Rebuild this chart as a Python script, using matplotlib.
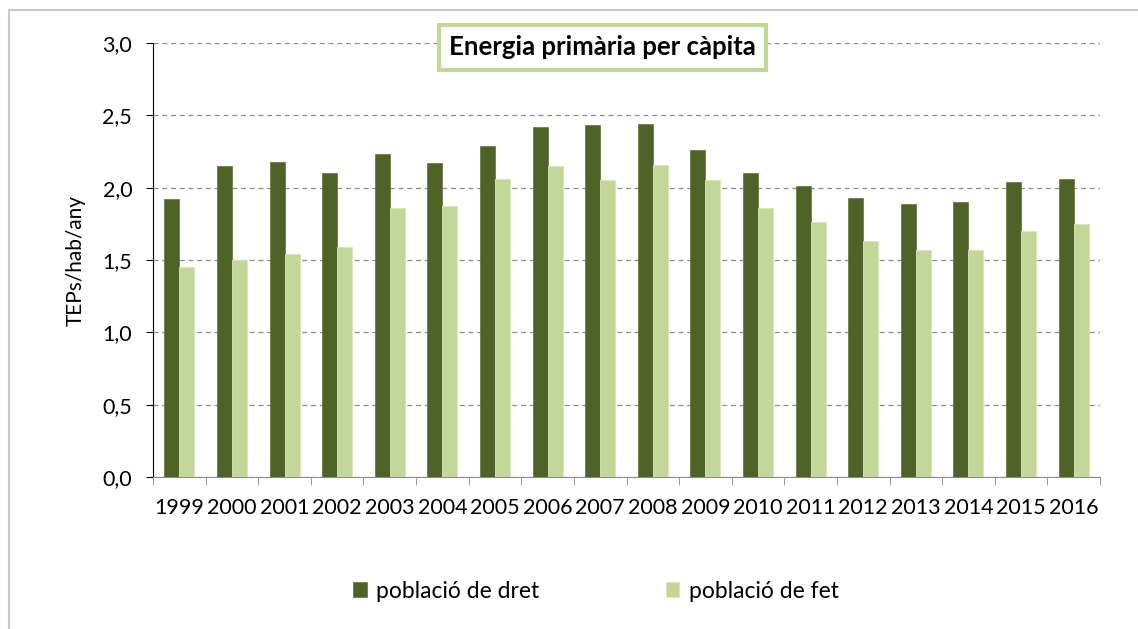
import matplotlib.pyplot as plt
import numpy as np
from matplotlib.patches import Rectangle

years = ["1999", "2000", "2001", "2002", "2003", "2004", "2005", "2006", "2007",
         "2008", "2009", "2010", "2011", "2012", "2013", "2014", "2015", "2016"]
dret = [1.92, 2.15, 2.18, 2.10, 2.23, 2.17, 2.29, 2.42, 2.43,
        2.44, 2.26, 2.10, 2.01, 1.93, 1.89, 1.90, 2.04, 2.06]
fet = [1.45, 1.50, 1.54, 1.59, 1.86, 1.87, 2.06, 2.15, 2.05,
       2.16, 2.05, 1.86, 1.76, 1.63, 1.57, 1.57, 1.70, 1.75]

dark = "#4f6228"
light = "#c4d79b"

plt.rcParams['font.family'] = ['Lato', 'DejaVu Sans']

W, H = 1138, 629
fig = plt.figure(figsize=(W / 100, H / 100), dpi=100)
# outer chart frame (only left/top edges visible in the original)
fig.patches.append(Rectangle((9 / W, -0.1), 1.2, 1 - 10 / H + 0.1, transform=fig.transFigure,
                             fill=False, edgecolor="#c8c8c8", linewidth=1.5))

ax = fig.add_axes([153 / W, 1 - 477 / H, (1100 - 153) / W, (477 - 43) / H])

x = np.arange(len(years))
w = 0.285
ax.bar(x - w / 2, dret, w, color=dark, edgecolor="#6b7d45", linewidth=0.6, label="població de dret", zorder=3)
ax.bar(x + w / 2, fet, w, color=light, edgecolor="#d8e6b8", linewidth=0.6, label="població de fet", zorder=3)

ax.set_xlim(-0.5, len(years) - 0.5)
ax.set_ylim(0, 3.0)
ax.set_yticks(np.arange(0, 3.01, 0.5))
ax.set_yticklabels([f"{v:.1f}".replace(".", ",") for v in np.arange(0, 3.01, 0.5)], fontsize=15.5)
ax.yaxis.grid(True, linestyle=(0, (4, 3)), color="#8c8c8c", linewidth=0.9, zorder=0)

ax.set_xticks(x)
ax.set_xticklabels(years, fontsize=15.5)
ax.tick_params(axis="x", length=0, pad=15)
ax.set_xticks(np.arange(-0.5, len(years)), minor=True)
ax.tick_params(axis="x", which="minor", length=6, color="#8c8c8c", direction="out")
ax.tick_params(axis="y", length=5, direction="out", pad=10)

for s in ["top", "right"]:
    ax.spines[s].set_visible(False)
ax.spines["bottom"].set_color("#8c8c8c")
ax.spines["left"].set_color("black")

ax.set_ylabel("TEPs/hab/any", fontsize=15, labelpad=12)

ax.text(0.475, 0.99, "Energia primària per càpita", transform=ax.transAxes,
        ha="center", va="center", fontsize=18.5, fontweight="bold",
        bbox=dict(boxstyle="square,pad=0.4", facecolor="white", edgecolor=light, linewidth=3),
        zorder=5)

fig.legend(loc="center", bbox_to_anchor=(596 / W, 1 - 591 / H), ncol=2, frameon=False,
           fontsize=16.5, handlelength=0.6, handleheight=0.6, handletextpad=0.4,
           columnspacing=5.5)

fig.savefig("out.png", dpi=100)
